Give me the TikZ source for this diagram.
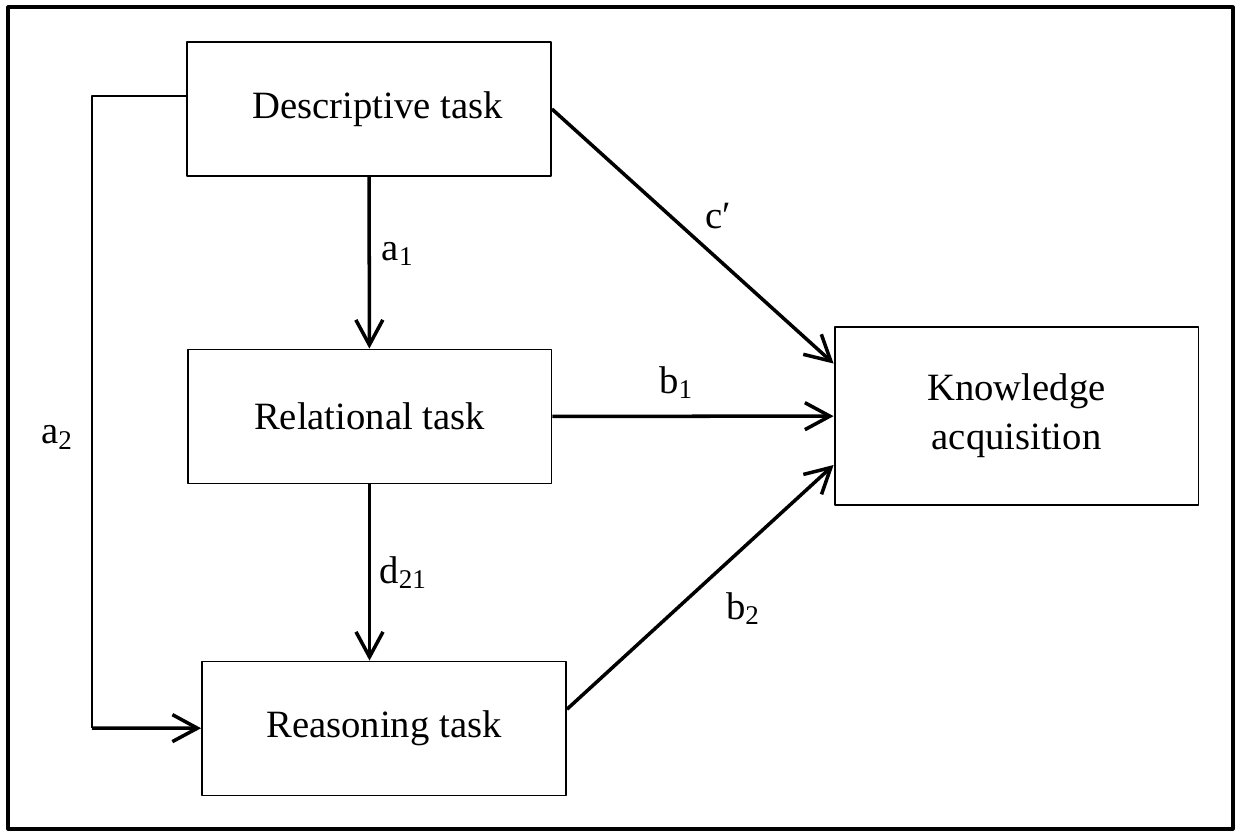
\documentclass[tikz,border=0pt]{standalone}
\usepackage{fontspec}
\setmainfont{Liberation Serif}
\usetikzlibrary{arrows.meta}
\begin{document}
\begin{tikzpicture}[x=0.02cm,y=-0.02cm,font=\fontsize{22}{28}\selectfont,line join=round,
	>={Straight Barb[length=0.5cm,width=0.54cm,line width=2pt]},
	box/.style={draw,line width=1.1pt,minimum width=7.28cm,minimum height=2.68cm,align=center},
	link/.style={->,line width=2pt},
	wire/.style={line width=1.1pt}]
	\useasboundingbox (0,0) rectangle (1241,832);
	\draw[line width=1.8pt] (8,7) rectangle (1233,829);
	% boxes
	\node[box] (desc) at (369,109) {\hspace*{0.35cm}Descriptive task};
	\node[box] (rel) at (369.5,416.5) {Relational task};
	\node[box] (reas) at (384,728.5) {Reasoning task};
	\node[box,minimum height=3.56cm] (know) at (1016.5,416) {Knowledge\\acquisition};
	\coordinate (turn) at (92,728);
	% paths
	\draw[link] (desc) -- (rel) node[pos=0.45,right=0.1cm] {a\textsubscript{1}};
	\draw[link] (rel) -- (rel.south |- reas.north) node[midway,right=0.05cm] {d\textsubscript{21}};
	\draw[link] (desc.east) -- (know.164) node[pos=0.51,above right=0.05cm] {c′};
	\draw[link] (rel) -- (know) node[pos=0.44,above=0.2cm] {b\textsubscript{1}};
	\draw[link] (reas.6) -- (know.195) node[pos=0.54,below right=0.15cm] {b\textsubscript{2}};
	\draw[wire] (desc.176) -| (turn) node[pos=0.77,left=0.25cm] {a\textsubscript{2}};
	\draw[link] (turn) -- (reas);
\end{tikzpicture}
\end{document}
